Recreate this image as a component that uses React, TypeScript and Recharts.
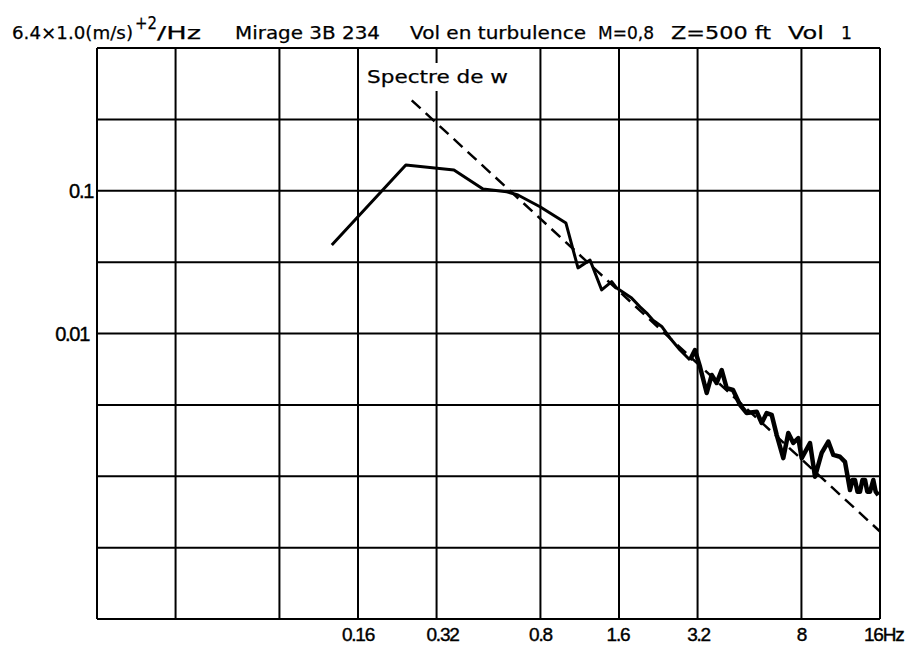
import { LineChart, Line, XAxis, YAxis, CartesianGrid } from "recharts"

// spectre mesuré (Hz, (m/s)^2/Hz) - partie basse fréquence
const lowFreq = [
  0.127, 0.244, 0.373, 0.482, 0.594, 0.656, 0.797, 1.002, 1.114, 1.239,
  1.373, 1.5, 1.568, 1.789, 1.925, 2.043, 2.16, 2.332, 2.509, 2.741, 2.993
]
const lowPsd = [
  0.0417, 0.1515, 0.1398, 0.1029, 0.0985, 0.0934, 0.0773, 0.0594, 0.0288, 0.0327,
  0.0202, 0.0231, 0.0208, 0.0177, 0.0154, 0.0139, 0.0124, 0.0112, 0.0093, 0.00766, 0.00652
]

// partie haute fréquence (bruitée, trait plus épais)
const highFreq = [
  2.993, 3.128, 3.269, 3.469, 3.625, 3.787, 3.959, 4.137, 4.375, 4.653,
  4.936, 5.392, 5.635, 5.888, 6.154, 6.431, 6.817, 7.125, 7.445, 7.782,
  8.019, 8.628, 9.018, 9.566, 10.14, 10.6, 11.24, 11.75, 12.28, 12.55,
  12.83, 13.12, 13.41, 13.7, 14.02, 14.3, 14.65, 15.08, 15.4, 15.76
]
const highPsd = [
  0.00652, 0.00766, 0.00585, 0.00383, 0.00512, 0.0045, 0.00555, 0.00415, 0.00402, 0.00316,
  0.00277, 0.00283, 0.00236, 0.00277, 0.00269, 0.00195, 0.00134, 0.00201, 0.00171, 0.00185,
  0.00134, 0.00171, 0.000993, 0.00146, 0.00175, 0.00141, 0.00137, 0.00126, 0.000801, 0.00094,
  0.000941, 0.00078, 0.000779, 0.00094, 0.000941, 0.00078, 0.000779, 0.000941, 0.00078, 0.000739
]

// spectre théorique (droite en pointillés)
const theoryFreq = [0.257, 16]
const theoryPsd = [0.43, 0.00041]

const xTicks = [0.016, 0.032, 0.08, 0.16, 0.32, 0.8, 1.6, 3.2, 8, 16]
const xTickLabels = ["", "", "", "0.16", "0.32", "0.8", "1.6", "3.2", "8", "16Hz"]
const yTicks = [0.0001, 0.000316, 0.001, 0.00316, 0.01, 0.0316, 0.1, 0.316, 1]
const yTickLabels = ["", "", "", "", "0.01", "", "0.1", "", ""]

const low = lowFreq.map((f, i) => ({ f, psd: lowPsd[i] }))
const high = highFreq.map((f, i) => ({ f, psd: highPsd[i] }))
const theory = theoryFreq.map((f, i) => ({ f, psd: theoryPsd[i] }))

const FONT = "'Liberation Sans', Arial, sans-serif"
const TITLE_FONT = "'DejaVu Sans', sans-serif"

const xLabelShift: Record<string, { dx: number; anchor: string }> = {
  "0.16": { dx: 0, anchor: "middle" },
  "0.32": { dx: 6, anchor: "middle" },
  "0.8": { dx: 0, anchor: "middle" },
  "1.6": { dx: -1, anchor: "middle" },
  "3.2": { dx: 1, anchor: "middle" },
  "8": { dx: 0, anchor: "middle" },
  "16Hz": { dx: -16, anchor: "start" }
}

const XTick = (props: any) => {
  const { x, y, payload } = props
  const label = xTickLabels[xTicks.indexOf(payload.value)]
  if (!label) return <g />
  const s = xLabelShift[label]
  return (
    <text
      x={x + s.dx}
      y={y + 22}
      textAnchor={s.anchor as any}
      fontSize={19}
      letterSpacing={-1.2}
      fontFamily={FONT}
      fill="#000"
      stroke="#000"
      strokeWidth={0.4}
    >
      {label}
    </text>
  )
}

const YTick = (props: any) => {
  const { x, y, payload } = props
  const idx = yTicks.findIndex(t => Math.abs(t - payload.value) / t < 0.01)
  const label = yTickLabels[idx]
  if (!label) return <g />
  const right = label === "0.1" ? 93 : 89
  return (
    <text
      x={x - 97 + right}
      y={y + 7}
      textAnchor="end"
      fontSize={20}
      letterSpacing={-1.3}
      fontFamily={FONT}
      fill="#000"
      stroke="#000"
      strokeWidth={0.4}
    >
      {label}
    </text>
  )
}

const T = (p: { x: number; y: number; w: number; size?: number; children: string }) => (
  <text
    x={p.x}
    y={p.y}
    textLength={p.w}
    lengthAdjust="spacingAndGlyphs"
    fontSize={p.size ?? 18}
    fontFamily={TITLE_FONT}
    fill="#000"
    stroke="#000"
    strokeWidth={0.25}
  >
    {p.children}
  </text>
)

export default function App() {
  return (
    <div style={{ position: "absolute", left: 0, top: 0, width: 922, height: 647, background: "#fff" }}>

      <LineChart
        width={922}
        height={647}
        margin={{ top: 48, right: 42, bottom: 0, left: 0 }}
      >
        <CartesianGrid stroke="#000" strokeWidth={2} />

        <XAxis
          dataKey="f"
          type="number"
          scale="log"
          domain={[0.016, 16]}
          ticks={xTicks}
          interval={0}
          height={28}
          tickSize={0}
          tickMargin={0}
          tick={<XTick />}
          axisLine={{ stroke: "#000", strokeWidth: 2 }}
          allowDataOverflow
        />

        <YAxis
          dataKey="psd"
          type="number"
          scale="log"
          domain={[0.0001, 1]}
          ticks={yTicks}
          interval={0}
          width={97}
          tickSize={0}
          tickMargin={0}
          tick={<YTick />}
          axisLine={{ stroke: "#000", strokeWidth: 2 }}
          allowDataOverflow
        />

        <Line
          data={theory}
          dataKey="psd"
          type="linear"
          stroke="#000"
          strokeWidth={2.5}
          strokeDasharray="12 7"
          dot={false}
          isAnimationActive={false}
        />

        <Line
          data={low}
          dataKey="psd"
          type="linear"
          stroke="#000"
          strokeWidth={3}
          strokeLinejoin="round"
          dot={false}
          isAnimationActive={false}
        />

        <Line
          data={high}
          dataKey="psd"
          type="linear"
          stroke="#000"
          strokeWidth={4.5}
          strokeLinejoin="round"
          dot={false}
          isAnimationActive={false}
        />
      </LineChart>

      {/* titre et annotation */}
      <svg
        width={922}
        height={647}
        style={{ position: "absolute", left: 0, top: 0, pointerEvents: "none" }}
      >
        <T x={12} y={39} w={121}>6.4×1.0(m/s)</T>
        <T x={135} y={29} w={22}>+2</T>
        <T x={157} y={39} w={44}>/Hz</T>
        <T x={235} y={39} w={145}>Mirage 3B 234</T>
        <T x={410} y={39} w={176}>Vol en turbulence</T>
        <T x={598} y={39} w={56}>M=0,8</T>
        <T x={671} y={39} w={100}>Z=500 ft</T>
        <T x={788} y={39} w={36}>Vol</T>
        <T x={841} y={39} w={11}>1</T>

        <rect x={362} y={63} width={150} height={28} fill="#fff" />
        <T x={367} y={83} w={141}>Spectre de w</T>
      </svg>
    </div>
  )
}
